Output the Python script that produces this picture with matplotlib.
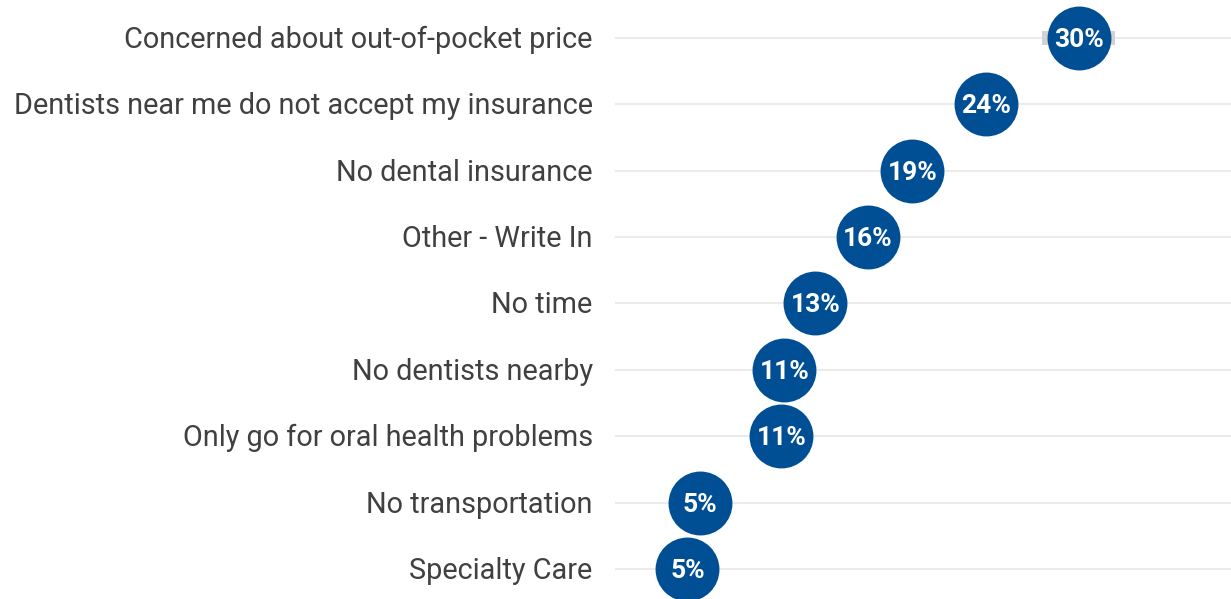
import matplotlib
matplotlib.use("Agg")
import matplotlib.pyplot as plt
from matplotlib.patches import Rectangle

categories = [
    "Concerned about out-of-pocket price",
    "Dentists near me do not accept my insurance",
    "No dental insurance",
    "Other - Write In",
    "No time",
    "No dentists nearby",
    "Only go for oral health problems",
    "No transportation",
    "Specialty Care",
]
values = [30.1, 24.1, 19.3, 16.4, 13.0, 11.0, 10.8, 5.5, 4.7]
labels = ["30%", "24%", "19%", "16%", "13%", "11%", "11%", "5%", "5%"]

W, H = 1231, 599
fig = plt.figure(figsize=(W / 100, H / 100), dpi=100)
ax = fig.add_axes([615 / W, 0, 1 - 615 / W, 1])
ax.set_xlim(0, 40)
ax.set_ylim(8.452, -0.5725)
ax.axis("off")

ys = list(range(len(categories)))
for y in ys:
    ax.plot([0, 40], [y, y], color="#ebebeb", lw=1.5, zorder=1, solid_capstyle="butt")

# light highlight behind the top dot
ax.add_patch(Rectangle((values[0] - 2.35, -0.1), 4.7, 0.2, color="#d2d2d2", zorder=2, lw=0))

ax.scatter(values, ys, s=46 ** 2, color="#004f95", zorder=3, linewidths=0)
for v, y, t in zip(values, ys, labels):
    ax.text(v, y + 0.03, t, ha="center", va="center", color="white",
            fontsize=19, fontweight="bold", family="Roboto", zorder=4)
for y, c in zip(ys, categories):
    ax.text(-1.45, y + 0.03, c, ha="right", va="center", color="#404040",
            fontsize=20.8, family="Roboto", clip_on=False)

fig.savefig("out.png", dpi=100)
